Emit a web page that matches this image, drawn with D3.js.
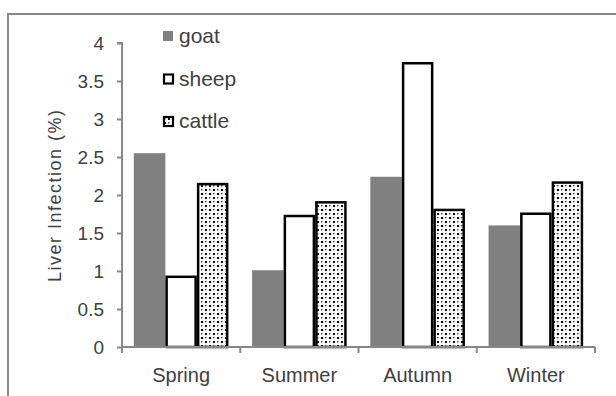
<!DOCTYPE html>
<html><head><meta charset="utf-8">
<script src="https://cdn.jsdelivr.net/npm/d3@7/dist/d3.min.js"></script>
<style>body{margin:0;background:#fff}svg{display:block}</style>
</head><body><svg id="c" width="616" height="396"></svg>
<script>
const categories = ["Spring", "Summer", "Autumn", "Winter"];
const seriesNames = ["goat", "sheep", "cattle"];
const goat = [2.55, 1.01, 2.24, 1.60];
const sheep = [0.94, 1.74, 3.75, 1.77];
const cattle = [2.16, 1.92, 1.82, 2.18];
const yTicks = [0, 0.5, 1, 1.5, 2, 2.5, 3, 3.5, 4];
const yTickLabels = ["0", "0.5", "1", "1.5", "2", "2.5", "3", "3.5", "4"];
const yTitle = "Liver Infection (%)";

(function () {
const values = [goat, sheep, cattle];
const svg = d3.select("#c");
const font = "'Liberation Sans', Arial, sans-serif";
const textCol = "#404040";
const axisCol = "#888";

const defs = svg.append("defs");
const pat = defs.append("pattern").attr("id", "dots").attr("patternUnits", "userSpaceOnUse")
  .attr("width", 8).attr("height", 8);
pat.append("rect").attr("width", 8).attr("height", 8).attr("fill", "#fff");
[[1, 1, 2, "#000"], [5, 5, 2, "#000"], [5, 1, 1.5, "#555"], [1, 5, 1.5, "#555"]].forEach(d => {
  pat.append("rect").attr("x", d[0]).attr("y", d[1]).attr("width", d[2]).attr("height", d[2]).attr("fill", d[3]);
});

// outer frame
svg.append("rect").attr("x", 8).attr("y", 14).attr("width", 640).attr("height", 420)
  .attr("fill", "none").attr("stroke", axisCol).attr("stroke-width", 2);

const pLeft = 122, pRight = 595, pTop = 43, pBottom = 347;
const x0 = d3.scaleBand().domain(categories).range([pLeft, pRight]).paddingInner(0.2).paddingOuter(0.1);
const x1 = d3.scaleBand().domain(seriesNames).range([0, x0.bandwidth()]);
const y = d3.scaleLinear().domain([0, 4]).range([pBottom, pTop]);

const fills = {goat: "#808080", sheep: "#fff", cattle: "url(#dots)"};
const strokes = {goat: "none", sheep: "#000", cattle: "#000"};

const g = svg.append("g");
categories.forEach((c, ci) => {
  seriesNames.forEach((s, si) => {
    const v = values[si][ci];
    const sw = s === "goat" ? 0 : 2.5;
    g.append("rect")
      .attr("x", x0(c) + x1(s) + sw / 2)
      .attr("y", y(v) + sw / 2)
      .attr("width", x1.bandwidth() - sw)
      .attr("height", y(0) - y(v) - sw / 2)
      .attr("fill", fills[s]).attr("stroke", strokes[s]).attr("stroke-width", sw);
  });
});

// y axis
const ya = svg.append("g").attr("transform", `translate(${pLeft},0)`)
  .call(d3.axisLeft(y).tickValues(yTicks).tickFormat((d, i) => yTickLabels[i]).tickSize(5).tickPadding(13));
ya.select(".domain").attr("stroke", axisCol).attr("stroke-width", 2).attr("d", `M-5,${pTop}H0V${pBottom}`);
ya.selectAll(".tick line").attr("stroke", axisCol).attr("stroke-width", 2);
ya.selectAll(".tick text").attr("font-family", font).attr("font-size", 19).attr("fill", textCol);

// x axis
const xa = svg.append("g").attr("transform", `translate(0,${pBottom})`);
xa.append("line").attr("x1", pLeft).attr("x2", pRight).attr("y1", 0).attr("y2", 0)
  .attr("stroke", axisCol).attr("stroke-width", 2);
const bounds = categories.map(c => x0(c) - x0.step() * x0.paddingInner() / 2);
bounds.push(pRight);
bounds[0] = pLeft;
xa.selectAll(".xt").data(bounds).enter().append("line")
  .attr("x1", d => d).attr("x2", d => d).attr("y1", 0).attr("y2", 6)
  .attr("stroke", axisCol).attr("stroke-width", 2);
xa.selectAll(".xl").data(categories).enter().append("text")
  .attr("x", d => x0(d) + x0.bandwidth() / 2).attr("y", 35)
  .attr("text-anchor", "middle").attr("font-family", font).attr("font-size", 20).attr("fill", textCol)
  .text(d => d);

// y title
svg.append("text").attr("transform", `translate(61,${196}) rotate(-90)`)
  .attr("text-anchor", "middle").attr("font-family", font).attr("font-size", 18).attr("fill", textCol)
  .attr("textLength", 172).attr("lengthAdjust", "spacing")
  .text(yTitle);

// legend
const leg = svg.append("g");
seriesNames.forEach((s, i) => {
  const ly = 36 + i * 42.5;
  const lg = leg.append("g").attr("transform", `translate(163,${ly})`);
  if (s === "goat") {
    lg.append("rect").attr("x", 0).attr("y", -5).attr("width", 10).attr("height", 10).attr("fill", "#808080");
  } else {
    lg.append("rect").attr("x", 1).attr("y", -4).attr("width", 9).attr("height", 9)
      .attr("fill", fills[s]).attr("stroke", "#000").attr("stroke-width", 2.2);
  }
  lg.append("text").attr("x", 16).attr("y", 7).attr("font-family", font).attr("font-size", 21)
    .attr("fill", textCol).text(s);
});
})();
</script></body></html>
